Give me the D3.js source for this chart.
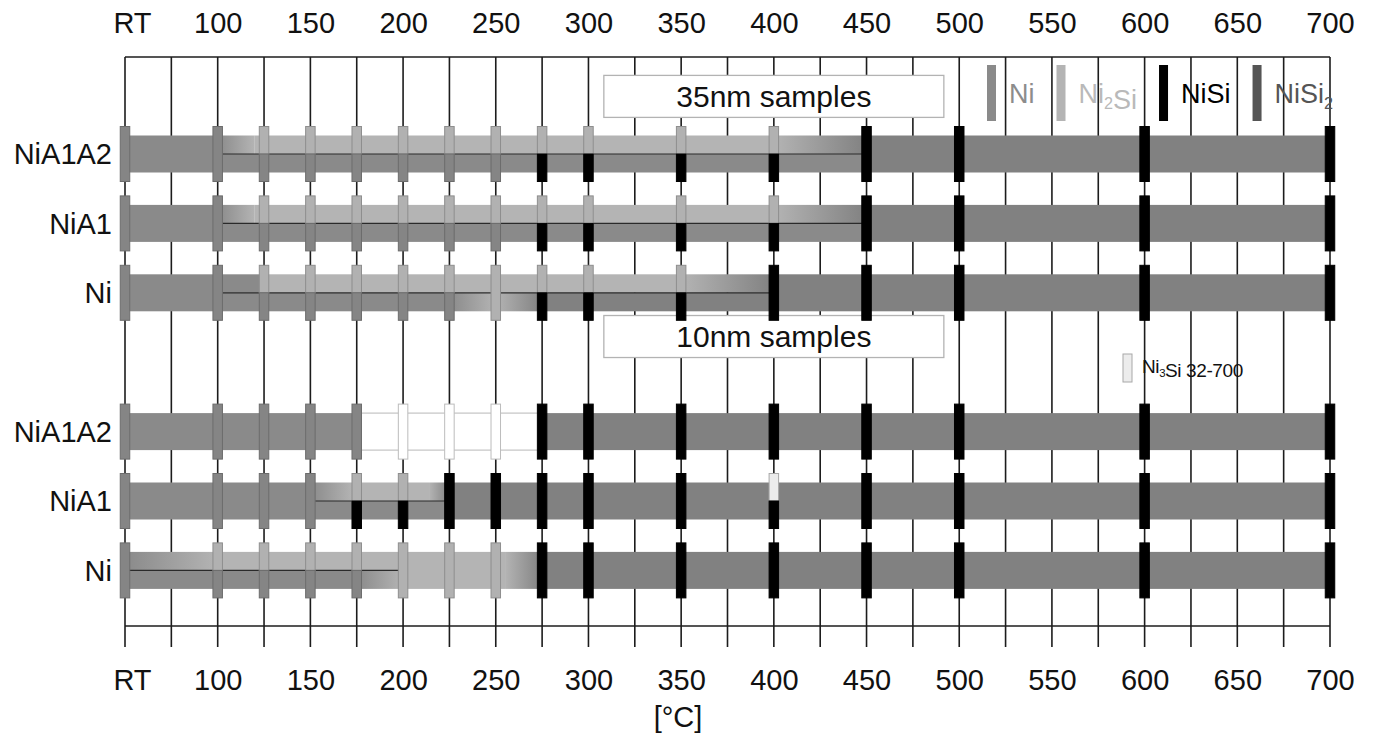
<!DOCTYPE html>
<html>
<head>
<meta charset="utf-8">
<title>Ni silicide phase formation vs annealing temperature</title>
<script src="https://d3js.org/d3.v7.min.js"></script>
<style>
  body { margin: 0; background: #fff; }
  text { font-family: "Liberation Sans", Arial, Helvetica, sans-serif; }
</style>
</head>
<body>
<svg id="chart" width="1375" height="740"></svg>
<script>
// RT is plotted as 50 °C
const gridTemps = d3.range(50, 701, 25);
const labelTemps = d3.range(50, 701, 50);
const tickText = t => t === 50 ? 'RT' : String(t);

const rowNames = ['NiA1A2', 'NiA1', 'Ni', 'NiA1A2', 'NiA1', 'Ni'];
const rowSlots = [0, 1, 2, 4, 5, 6];
const groupNames = ['35nm samples', '10nm samples'];
const groupSlots = [-0.83, 2.63];

// measured points: [temperature, upper phase, lower phase]
const pts35NiA1A2 = [
  [50, 'Ni', 'Ni'], [100, 'Ni', 'Ni'],
  [125, 'Ni2Si', 'Ni'], [150, 'Ni2Si', 'Ni'], [175, 'Ni2Si', 'Ni'], [200, 'Ni2Si', 'Ni'], [225, 'Ni2Si', 'Ni'], [250, 'Ni2Si', 'Ni'],
  [275, 'Ni2Si', 'NiSi'], [300, 'Ni2Si', 'NiSi'], [350, 'Ni2Si', 'NiSi'], [400, 'Ni2Si', 'NiSi'],
  [450, 'NiSi', 'NiSi'], [500, 'NiSi', 'NiSi'], [600, 'NiSi', 'NiSi'], [700, 'NiSi', 'NiSi']
];
const pts35NiA1 = [
  [50, 'Ni', 'Ni'], [100, 'Ni', 'Ni'],
  [125, 'Ni2Si', 'Ni'], [150, 'Ni2Si', 'Ni'], [175, 'Ni2Si', 'Ni'], [200, 'Ni2Si', 'Ni'], [225, 'Ni2Si', 'Ni'], [250, 'Ni2Si', 'Ni'],
  [275, 'Ni2Si', 'NiSi'], [300, 'Ni2Si', 'NiSi'], [350, 'Ni2Si', 'NiSi'], [400, 'Ni2Si', 'NiSi'],
  [450, 'NiSi', 'NiSi'], [500, 'NiSi', 'NiSi'], [600, 'NiSi', 'NiSi'], [700, 'NiSi', 'NiSi']
];
const pts35Ni = [
  [50, 'Ni', 'Ni'], [100, 'Ni', 'Ni'],
  [125, 'Ni2Si', 'Ni'], [150, 'Ni2Si', 'Ni'], [175, 'Ni2Si', 'Ni'], [200, 'Ni2Si', 'Ni'], [225, 'Ni2Si', 'Ni'],
  [250, 'Ni2Si', 'Ni2Si'],
  [275, 'Ni2Si', 'NiSi'], [300, 'Ni2Si', 'NiSi'], [350, 'Ni2Si', 'NiSi'],
  [400, 'NiSi', 'NiSi'], [450, 'NiSi', 'NiSi'], [500, 'NiSi', 'NiSi'], [600, 'NiSi', 'NiSi'], [700, 'NiSi', 'NiSi']
];
const pts10NiA1A2 = [
  [50, 'Ni', 'Ni'], [100, 'Ni', 'Ni'], [125, 'Ni', 'Ni'], [150, 'Ni', 'Ni'], [175, 'Ni', 'Ni'],
  [200, 'none', 'none'], [225, 'none', 'none'], [250, 'none', 'none'],
  [275, 'NiSi', 'NiSi'], [300, 'NiSi', 'NiSi'], [350, 'NiSi', 'NiSi'], [400, 'NiSi', 'NiSi'],
  [450, 'NiSi', 'NiSi'], [500, 'NiSi', 'NiSi'], [600, 'NiSi', 'NiSi'], [700, 'NiSi', 'NiSi']
];
const pts10NiA1 = [
  [50, 'Ni', 'Ni'], [100, 'Ni', 'Ni'], [125, 'Ni', 'Ni'], [150, 'Ni', 'Ni'],
  [175, 'Ni2Si', 'NiSi'], [200, 'Ni2Si', 'NiSi'],
  [225, 'NiSi', 'NiSi'], [250, 'NiSi', 'NiSi'], [275, 'NiSi', 'NiSi'], [300, 'NiSi', 'NiSi'], [350, 'NiSi', 'NiSi'],
  [400, 'Ni3Si', 'NiSi'],
  [450, 'NiSi', 'NiSi'], [500, 'NiSi', 'NiSi'], [600, 'NiSi', 'NiSi'], [700, 'NiSi', 'NiSi']
];
const pts10Ni = [
  [50, 'Ni', 'Ni'],
  [100, 'Ni2Si', 'Ni'], [125, 'Ni2Si', 'Ni'], [150, 'Ni2Si', 'Ni'], [175, 'Ni2Si', 'Ni'],
  [200, 'Ni2Si', 'Ni2Si'], [225, 'Ni2Si', 'Ni2Si'], [250, 'Ni2Si', 'Ni2Si'],
  [275, 'NiSi', 'NiSi'], [300, 'NiSi', 'NiSi'], [350, 'NiSi', 'NiSi'], [400, 'NiSi', 'NiSi'],
  [450, 'NiSi', 'NiSi'], [500, 'NiSi', 'NiSi'], [600, 'NiSi', 'NiSi'], [700, 'NiSi', 'NiSi']
];

// phase bands: [from, to, part, phase at start, phase at end]
const band35NiA1A2 = [
  [50, 100, 'full', 'Ni', 'Ni'],
  [100, 450, 'bot', 'Ni', 'Ni'],
  [100, 120, 'top', 'Ni', 'Ni2Si'],
  [120, 400, 'top', 'Ni2Si', 'Ni2Si'],
  [400, 450, 'top', 'Ni2Si', 'NiSi'],
  [450, 700, 'full', 'NiSi', 'NiSi']
];
const band35NiA1 = [
  [50, 100, 'full', 'Ni', 'Ni'],
  [100, 450, 'bot', 'Ni', 'Ni'],
  [100, 120, 'top', 'Ni', 'Ni2Si'],
  [120, 400, 'top', 'Ni2Si', 'Ni2Si'],
  [400, 450, 'top', 'Ni2Si', 'NiSi'],
  [450, 700, 'full', 'NiSi', 'NiSi']
];
const band35Ni = [
  [50, 100, 'full', 'Ni', 'Ni'],
  [100, 125, 'top', 'Ni', 'Ni'],
  [125, 350, 'top', 'Ni2Si', 'Ni2Si'],
  [350, 400, 'top', 'Ni2Si', 'NiSi'],
  [100, 225, 'bot', 'Ni', 'Ni'],
  [225, 250, 'bot', 'Ni', 'Ni2Si'],
  [250, 275, 'bot', 'Ni2Si', 'NiSi'],
  [275, 400, 'bot', 'NiSi', 'NiSi'],
  [400, 700, 'full', 'NiSi', 'NiSi']
];
const band10NiA1A2 = [
  [50, 175, 'full', 'Ni', 'Ni'],
  [175, 275, 'full', 'none', 'none'],
  [275, 700, 'full', 'NiSi', 'NiSi']
];
const band10NiA1 = [
  [50, 150, 'full', 'Ni', 'Ni'],
  [150, 225, 'bot', 'Ni', 'Ni'],
  [150, 173, 'top', 'Ni', 'Ni2Si'],
  [173, 214, 'top', 'Ni2Si', 'Ni2Si'],
  [214, 225, 'top', 'Ni2Si', 'NiSi'],
  [225, 700, 'full', 'NiSi', 'NiSi']
];
const band10Ni = [
  [50, 100, 'top', 'Ni', 'Ni2Si'],
  [100, 200, 'top', 'Ni2Si', 'Ni2Si'],
  [50, 175, 'bot', 'Ni', 'Ni'],
  [175, 200, 'bot', 'Ni', 'Ni2Si'],
  [200, 255, 'full', 'Ni2Si', 'Ni2Si'],
  [255, 275, 'full', 'Ni2Si', 'NiSi'],
  [275, 700, 'full', 'NiSi', 'NiSi']
];

// two-phase coexistence line [from, to]
const mid35NiA1A2 = [100, 450];
const mid35NiA1 = [100, 450];
const mid35Ni = [100, 400];
const mid10NiA1A2 = null;
const mid10NiA1 = [150, 225];
const mid10Ni = [50, 200];

const legendNames = ['Ni', 'Ni_2Si', 'NiSi', 'NiSi_2'];
const legendKeys = ['Ni', 'Ni2Si', 'NiSi', 'NiSi2'];
const noteName = 'Ni_3Si 32-700';

const rowPts = [pts35NiA1A2, pts35NiA1, pts35Ni, pts10NiA1A2, pts10NiA1, pts10Ni];
const rowBands = [band35NiA1A2, band35NiA1, band35Ni, band10NiA1A2, band10NiA1, band10Ni];
const rowMids = [mid35NiA1A2, mid35NiA1, mid35Ni, mid10NiA1A2, mid10NiA1, mid10Ni];

// ---- styling ----
const barFill = { Ni: '#8a8a8a', Ni2Si: '#b4b4b4', NiSi: '#818181', none: '#ffffff' };
const markFill = { Ni: '#858585', Ni2Si: '#b1b1b1', NiSi: '#000000', Ni3Si: '#ececec', none: '#ffffff' };
const markStroke = { Ni: '#6c6c6c', Ni2Si: '#8e8e8e', NiSi: '#000000', Ni3Si: '#a8a8a8', none: '#bcbcbc' };
const legendFill = { Ni: '#8a8a8a', Ni2Si: '#b4b4b4', NiSi: '#000000', NiSi2: '#555555' };
const legendText = { Ni: '#8c8c8c', Ni2Si: '#b9b9b9', NiSi: '#000000', NiSi2: '#555555' };

const svg = d3.select('#chart');
const defs = svg.append('defs');

const x = d3.scaleLinear().domain([50, 700]).range([125, 1330]);
const y = d3.scaleLinear().domain([0, 6]).range([154, 570.4]);

const topY = 57, axisY = 626, tickEnd = 647;
const barH = 37, markH = 55, markW = 9.5;

// write chemical formula, '_' marks one subscript character
function formula(sel, str, fs) {
  const parts = str.split(/(_.)/).filter(s => s.length);
  parts.forEach(p => {
    if (p[0] === '_') {
      sel.append('tspan').attr('font-size', fs * 0.6).attr('dy', fs * 0.22).text(p[1]);
      sel.append('tspan').attr('font-size', fs).attr('dy', -fs * 0.22).text('');
    } else {
      sel.append('tspan').text(p);
    }
  });
}

// grid
svg.append('g').selectAll('line').data(gridTemps).join('line')
  .attr('x1', d => x(d)).attr('x2', d => x(d))
  .attr('y1', topY).attr('y2', tickEnd)
  .attr('stroke', '#1c1c1c').attr('stroke-width', 1.6);
svg.append('line').attr('x1', x(50)).attr('x2', x(700)).attr('y1', topY).attr('y2', topY)
  .attr('stroke', '#1c1c1c').attr('stroke-width', 1.6);
svg.append('line').attr('x1', x(50)).attr('x2', x(700)).attr('y1', axisY).attr('y2', axisY)
  .attr('stroke', '#1c1c1c').attr('stroke-width', 1.6);

// tick labels top and bottom
const axTop = d3.axisTop(x).tickValues(labelTemps).tickFormat(tickText).tickSize(0).tickPadding(0);
const axBot = d3.axisBottom(x).tickValues(labelTemps).tickFormat(tickText).tickSize(0).tickPadding(0);
[[axTop, 33, 0], [axBot, 690, 0]].forEach(([ax, ty]) => {
  const g = svg.append('g').attr('transform', `translate(0,${ty})`).call(ax);
  g.select('.domain').remove();
  g.selectAll('text').attr('font-size', 29).attr('fill', '#111')
    .attr('font-family', '"Liberation Sans", Arial, sans-serif')
    .attr('y', 0).attr('dy', 0)
    .attr('dx', d => d === 50 ? 7 : 0);
});
svg.append('text').attr('x', 678).attr('y', 727).attr('text-anchor', 'middle')
  .attr('font-size', 29).attr('fill', '#111').text('[°C]');

// group boxes
groupNames.forEach((name, i) => {
  const cy = y(groupSlots[i]);
  svg.append('rect').attr('x', x(400) - 170).attr('y', cy - 21).attr('width', 340).attr('height', 42)
    .attr('fill', '#fff').attr('stroke', '#b3b3b3').attr('stroke-width', 1.3);
  svg.append('text').attr('x', x(400)).attr('y', cy).attr('dy', '0.36em').attr('text-anchor', 'middle')
    .attr('font-size', 30).attr('fill', '#111').text(name);
});

// legend
let lx = 987;
legendNames.forEach((name, i) => {
  const k = legendKeys[i];
  svg.append('rect').attr('x', lx).attr('y', 65).attr('width', 9).attr('height', 56)
    .attr('fill', legendFill[k]);
  const t = svg.append('text').attr('x', lx + 22).attr('y', 103).attr('font-size', 27)
    .attr('fill', legendText[k]);
  formula(t, name, 27);
  lx = lx + 22 + t.node().getComputedTextLength() + 22;
});
svg.append('rect').attr('x', 1123).attr('y', 354).attr('width', 9).attr('height', 28)
  .attr('fill', markFill.Ni3Si).attr('stroke', markStroke.Ni3Si).attr('stroke-width', 1);
const note = svg.append('text').attr('x', 1142).attr('y', 373).attr('font-size', 19)
  .attr('fill', '#111').attr('letter-spacing', -0.4);
formula(note, noteName, 19);

// rows
let gid = 0;
rowNames.forEach((name, r) => {
  const cy = y(rowSlots[r]);
  const g = svg.append('g');

  rowBands[r].forEach(([t0, t1, part, p0, p1]) => {
    const y0 = part === 'bot' ? cy : cy - barH / 2;
    const h = part === 'full' ? barH : barH / 2;
    let fill = barFill[p0];
    if (p0 !== p1) {
      const id = 'grad' + (gid++);
      const lg = defs.append('linearGradient').attr('id', id)
        .attr('gradientUnits', 'userSpaceOnUse')
        .attr('x1', x(t0)).attr('x2', x(t1)).attr('y1', 0).attr('y2', 0);
      lg.append('stop').attr('offset', 0).attr('stop-color', barFill[p0]);
      lg.append('stop').attr('offset', 1).attr('stop-color', barFill[p1]);
      fill = `url(#${id})`;
    }
    const rect = g.append('rect').attr('x', x(t0)).attr('y', y0)
      .attr('width', x(t1) - x(t0)).attr('height', h).attr('fill', fill);
    if (p0 === 'none') rect.attr('stroke', '#c4c4c4').attr('stroke-width', 1.2);
  });

  if (rowMids[r]) {
    g.append('line').attr('x1', x(rowMids[r][0])).attr('x2', x(rowMids[r][1]))
      .attr('y1', cy).attr('y2', cy).attr('stroke', '#2a2a2a').attr('stroke-width', 1.2);
  }

  rowPts[r].forEach(([t, up, lo]) => {
    const xs = x(t) - markW / 2;
    if (up === lo) {
      g.append('rect').attr('x', xs).attr('y', cy - markH / 2).attr('width', markW).attr('height', markH)
        .attr('fill', markFill[up]).attr('stroke', markStroke[up]).attr('stroke-width', 1);
    } else {
      g.append('rect').attr('x', xs).attr('y', cy - markH / 2).attr('width', markW).attr('height', markH / 2)
        .attr('fill', markFill[up]).attr('stroke', markStroke[up]).attr('stroke-width', 1);
      g.append('rect').attr('x', xs).attr('y', cy).attr('width', markW).attr('height', markH / 2)
        .attr('fill', markFill[lo]).attr('stroke', markStroke[lo]).attr('stroke-width', 1);
    }
  });

  svg.append('text').attr('x', 112).attr('y', cy).attr('dy', '0.36em').attr('text-anchor', 'end')
    .attr('font-size', 29).attr('fill', '#111').text(name);
});
</script>
</body>
</html>
